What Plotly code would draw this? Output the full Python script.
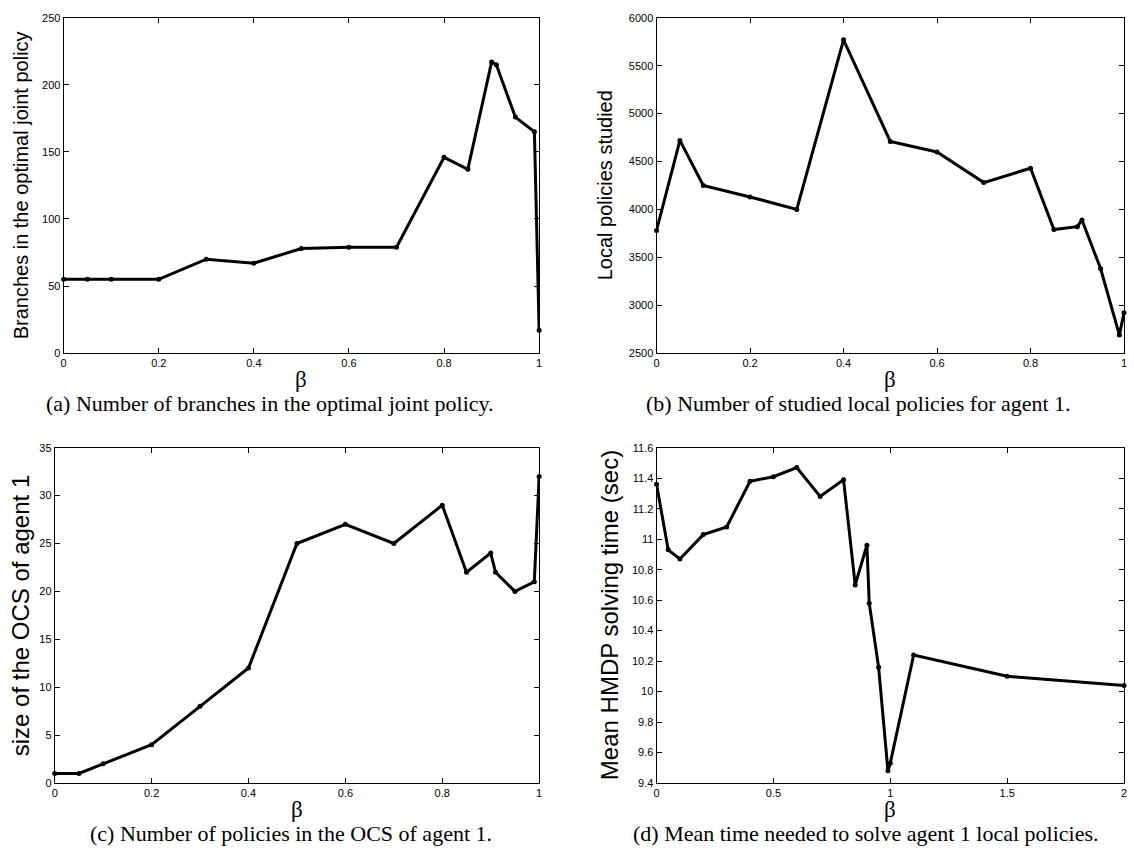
import plotly.graph_objects as go

beta = [0, 0.05, 0.1, 0.2, 0.3, 0.4, 0.5, 0.6, 0.7, 0.8, 0.85, 0.9, 0.91, 0.95, 0.99, 1.0]
branches = [55, 55, 55, 55, 70, 67, 78, 79, 79, 146, 137, 217, 215, 176, 165, 17]
local_policies = [3780, 4720, 4250, 4130, 4000, 5770, 4710, 4600, 4280, 4430, 3790, 3820, 3890, 3380, 2690, 2920]
ocs_size = [1, 1, 2, 4, 8, 12, 25, 27, 25, 29, 22, 24, 22, 20, 21, 32]
beta_d = [0, 0.05, 0.1, 0.2, 0.3, 0.4, 0.5, 0.6, 0.7, 0.8, 0.85, 0.9, 0.91, 0.95, 0.99, 1.0, 1.1, 1.5, 2.0]
solve_time = [11.36, 10.93, 10.87, 11.03, 11.08, 11.38, 11.41, 11.47, 11.28, 11.39, 10.70, 10.96, 10.58,
              10.16, 9.48, 9.53, 10.24, 10.10, 10.04]

ytitles = ["Branches in the optimal joint policy", "Local policies studied",
           "size of the OCS of agent 1", "Mean HMDP solving time (sec)"]
captions = ["(a) Number of branches in the optimal joint policy.",
            "(b) Number of studied local policies for agent 1.",
            "(c) Number of policies in the OCS of agent 1.",
            "(d) Mean time needed to solve agent 1 local policies."]

W, H = 1134, 858
def px(x): return x / W
def py(y): return 1 - y / H

fig = go.Figure()
series = [(beta, branches), (beta, local_policies), (beta, ocs_size), (beta_d, solve_time)]
for i, (xs, ys) in enumerate(series):
    n = "" if i == 0 else str(i + 1)
    fig.add_trace(go.Scatter(x=xs, y=ys, mode="lines+markers", xaxis="x" + n, yaxis="y" + n,
                             line=dict(color="black", width=3),
                             marker=dict(color="black", size=5), cliponaxis=False,
                             showlegend=False))

# pixel layout of plot areas in the window: (left, right, top, bottom)
areas = [(61, 539, 12, 352), (657, 1127, 12, 352), (52, 539, 448, 788), (657, 1127, 448, 788)]
xranges = [[0, 1], [0, 1], [0, 1], [0, 2]]
yranges = [[0, 250], [2500, 6000], [0, 35], [9.4, 11.6]]
xticks = [[0, 0.2, 0.4, 0.6, 0.8, 1], [0, 0.2, 0.4, 0.6, 0.8, 1], [0, 0.2, 0.4, 0.6, 0.8, 1], [0, 0.5, 1, 1.5, 2]]
xticktext = [["0", "0.2", "0.4", "0.6", "0.8", "1"]] * 3 + [["0", "0.5", "1", "1.5", "2"]]
ydticks = [50, 500, 5, 0.2]
ytitle_sizes = [20, 20, 24, 24]
ytitle_x = [19, 606, 17, 610]
caption_cx = [268, 860, 290, 868]

tickfont = dict(family="Liberation Sans, Arial, sans-serif", size=11, color="black")
axcommon = dict(showline=True, linecolor="black", linewidth=1, mirror="allticks", ticks="inside",
                ticklen=5, tickcolor="black", showgrid=False, zeroline=False, tickfont=tickfont)

annotations = []
for i, (l, r, t, b) in enumerate(areas):
    n = "" if i == 0 else str(i + 1)
    fig.update_layout(**{
        "xaxis" + n: dict(domain=[px(l), px(r)], range=xranges[i], anchor="y" + n,
                          tickvals=xticks[i], ticktext=xticktext[i], **axcommon),
        "yaxis" + n: dict(domain=[py(b), py(t)], range=yranges[i], anchor="x" + n,
                          dtick=ydticks[i], tick0=yranges[i][0], **axcommon),
    })
    cx = (l + r) / 2
    annotations.append(dict(x=px(cx), y=py(b + 27), xref="paper", yref="paper", text="β",
                            xanchor="center", yanchor="middle", showarrow=False,
                            font=dict(family="Liberation Serif, Times New Roman, serif",
                                      size=23, color="black")))
    annotations.append(dict(x=px(caption_cx[i]), y=py(b + 51), xref="paper", yref="paper",
                            text=captions[i], xanchor="center", yanchor="middle", showarrow=False,
                            font=dict(family="Liberation Serif, Times New Roman, serif",
                                      size=22, color="black")))
    annotations.append(dict(x=px(ytitle_x[i]), y=py((t + b) / 2), xref="paper", yref="paper",
                            text=ytitles[i], textangle=-90, xanchor="center", yanchor="middle",
                            showarrow=False,
                            font=dict(family="Liberation Sans, Arial, sans-serif",
                                      size=ytitle_sizes[i], color="black")))

fig.update_layout(width=W, height=H, margin=dict(l=0, r=0, t=0, b=0),
                  paper_bgcolor="white", plot_bgcolor="white", annotations=annotations)

fig.write_html("out.html", config={"displayModeBar": False},
               post_script="document.body.style.margin='0px';document.body.style.overflow='hidden';")
